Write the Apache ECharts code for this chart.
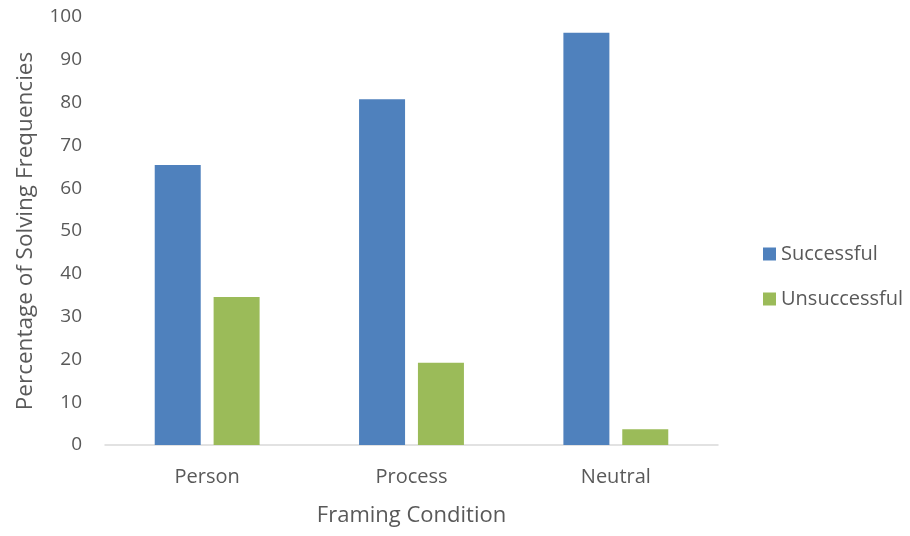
<!DOCTYPE html>
<html><head><meta charset="utf-8">
<script src="https://cdn.jsdelivr.net/npm/echarts@6/dist/echarts.min.js"></script>
<style>html,body{margin:0;padding:0;background:#fff}#c{width:910px;height:536px}</style>
</head><body><div id="c"></div>
<script>
const categories = ['Person', 'Process', 'Neutral'];
const successful = [65.4, 80.8, 96.3];
const unsuccessful = [34.6, 19.2, 3.7];
const yTicks = { min: 0, max: 100, interval: 10 };

const font = '"Open Sans", "Noto Sans", sans-serif';
const chart = echarts.init(document.getElementById('c'));
chart.setOption({
  animation: false,
  textStyle: { fontFamily: font },
  grid: { left: 105, right: 192, top: 17, bottom: 91 },
  legend: {
    orient: 'vertical', left: 758, top: 239, itemGap: 25,
    itemWidth: 13, itemHeight: 13, icon: 'rect',
    textStyle: { fontSize: 20, color: '#595959', fontFamily: font },
    data: ['Successful', 'Unsuccessful']
  },
  xAxis: {
    type: 'category', data: categories,
    name: 'Framing Condition', nameLocation: 'middle', nameGap: 60,
    nameTextStyle: { fontSize: 22, color: '#595959', fontFamily: font },
    axisLine: { lineStyle: { color: '#d9d9d9', width: 1.5 } },
    axisTick: { show: false },
    axisLabel: { fontSize: 20, color: '#595959', margin: 22, fontFamily: font }
  },
  yAxis: {
    type: 'value', min: yTicks.min, max: yTicks.max, interval: yTicks.interval,
    name: 'Percentage of Solving Frequencies', nameLocation: 'middle', nameGap: 68,
    nameTextStyle: { fontSize: 22.5, color: '#595959', fontFamily: font },
    axisLine: { show: false }, axisTick: { show: false }, splitLine: { show: false },
    axisLabel: { fontSize: 19, color: '#595959', margin: 23, fontFamily: font }
  },
  series: [
    { name: 'Successful', type: 'bar', data: successful, barWidth: 46, barGap: '28%',
      itemStyle: { color: '#4f81bd' } },
    { name: 'Unsuccessful', type: 'bar', data: unsuccessful, barWidth: 46,
      itemStyle: { color: '#9bbb59' } }
  ]
});
</script></body></html>
